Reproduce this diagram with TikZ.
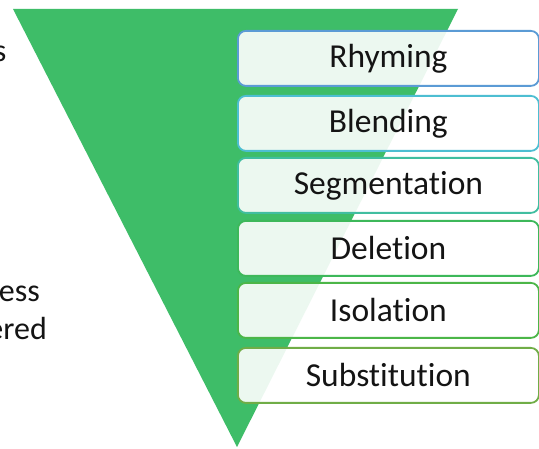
\documentclass[tikz,border=0pt]{standalone}
\usepackage{fontspec}
\setmainfont{Carlito}[Ligatures={NoCommon}]
\definecolor{tri}{RGB}{62,189,104}
\definecolor{cA}{RGB}{91,155,213}
\definecolor{cB}{RGB}{77,190,210}
\definecolor{cC}{RGB}{64,190,160}
\definecolor{cD}{RGB}{61,184,90}
\definecolor{cE}{RGB}{76,182,72}
\definecolor{cF}{RGB}{112,173,71}
\definecolor{ink}{RGB}{20,20,20}
\tikzset{
  levelbox/.style={draw=#1, line width=1.8pt, rounded corners=8pt, fill=white, fill opacity=0.9, text opacity=1,
    minimum width=301pt, minimum height=55pt, inner sep=0pt, anchor=north west,
    font=\fontsize{33.5}{36}\selectfont, text=ink},
  sidetext/.style={font=\fontsize{32}{36}\selectfont, text=ink, inner sep=0pt, anchor=base east}
}
\begin{document}
\begin{tikzpicture}[x=1pt,y=-1pt]
\useasboundingbox (0,0) rectangle (539,449);
\clip (0,0) rectangle (539,449);
\fill[white] (0,0) rectangle (539,449);
\coordinate (tl) at (13,9);
\coordinate (tr) at (458,9);
\coordinate (tip) at (237,447);
\fill[tri] (tl) -- (tr) -- (tip) -- cycle;
\node[sidetext] (s1) at (6.5,62) {s};
\node[sidetext] (s2) at (40,302) {ess};
\node[sidetext] (s3) at (47,340) {ered};
\node[levelbox=cA] (b1) at (237,30) {Rhyming};
\node[levelbox=cB] (b2) at (237,95) {Blending};
\node[levelbox=cC] (b3) at (237,157) {Segmentation};
\node[levelbox=cD] (b4) at (237,220) {Deletion};
\node[levelbox=cE] (b5) at (237,282) {Isolation};
\node[levelbox=cF] (b6) at (237,347) {Substitution};
\end{tikzpicture}
\end{document}
